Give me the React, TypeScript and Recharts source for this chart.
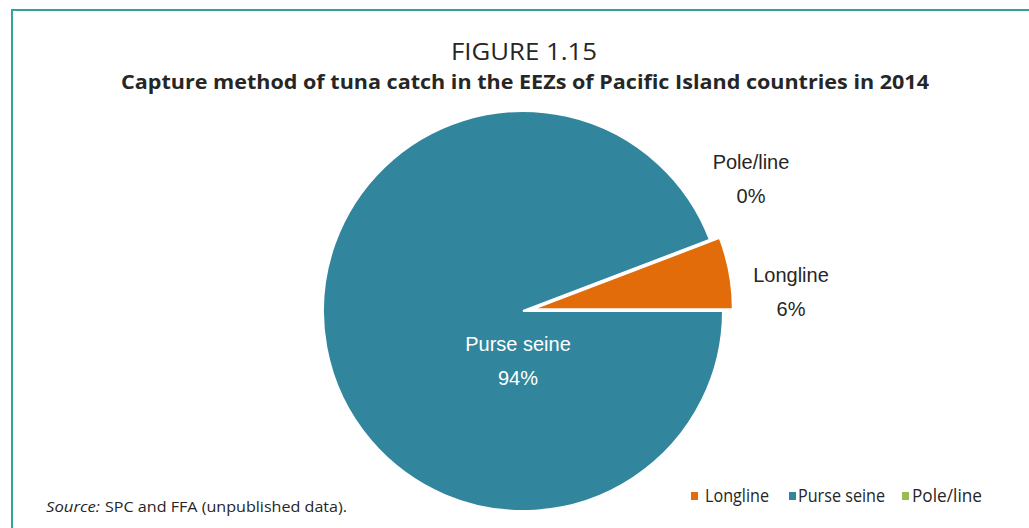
import { PieChart, Pie, Cell, Legend } from "recharts";

const categories = ["Longline", "Purse seine", "Pole/line"];
const shares = [5.8, 94.2, 0];
const colors = ["#E36C0A", "#31869D", "#9BBB59"];
const EXPLODED = "Longline";

// label placement relative to the pie centre (Excel moved these by hand)
const LABEL_OFFSETS: Record<string, [number, number]> = {
  Longline: [268, -29],
  "Purse seine": [-5, 40],
  "Pole/line": [228, -142],
};

const CX = 523;
const CY = 311;
const RADIUS = 200;
const EXPLODE_BY = 10;

const total = shares.reduce((a, b) => a + b, 0);
const data = categories.map((name, i) => ({ name, value: shares[i] }));

const explodeIdx = categories.indexOf(EXPLODED);
const startShare = shares.slice(0, explodeIdx).reduce((a, b) => a + b, 0);
const midRad = (((startShare + shares[explodeIdx] / 2) / total) * 360 * Math.PI) / 180;
const explodeDx = EXPLODE_BY * Math.cos(midRad);
const explodeDy = -EXPLODE_BY * Math.sin(midRad);

const FRAME = "#33a39a";
const TEXT = "#262626";

function renderLabel(props: any) {
  const { cx, cy, index } = props;
  const name = categories[index];
  const [dx, dy] = LABEL_OFFSETS[name];
  const pct = `${Math.round((shares[index] / total) * 100)}%`;
  const fill = name === "Purse seine" ? "#ffffff" : TEXT;
  return (
    <g key={`lbl-${name}`}>
      <text
        x={cx + dx}
        y={cy + dy}
        textAnchor="middle"
        fill={fill}
        fontFamily="'Liberation Sans', Arial, sans-serif"
        fontSize={20}
      >
        {name}
      </text>
      <text
        x={cx + dx}
        y={cy + dy + 34}
        textAnchor="middle"
        fill={fill}
        fontFamily="'Liberation Sans', Arial, sans-serif"
        fontSize={20}
      >
        {pct}
      </text>
    </g>
  );
}

const LEGEND_ITEMS = [
  { sq: 5, tx: 19, w: 64 },
  { sq: 103, tx: 112, w: 87 },
  { sq: 216, tx: 226, w: 70 },
];

function LegendContent() {
  return (
    <svg width={320} height={24}>
      {categories.map((name, i) => (
        <g key={name}>
          <rect x={LEGEND_ITEMS[i].sq} y={8} width={7} height={8} fill={colors[i]} />
          <text
            x={LEGEND_ITEMS[i].tx}
            y={18}
            fontFamily="'Open Sans', sans-serif"
            fontSize={18}
            fill={TEXT}
            textLength={LEGEND_ITEMS[i].w}
            lengthAdjust="spacingAndGlyphs"
          >
            {name}
          </text>
        </g>
      ))}
    </svg>
  );
}

export default function App() {
  return (
    <div
      style={{
        position: "relative",
        width: 1029,
        height: 528,
        background: "#fff",
        overflow: "hidden",
      }}
    >
      <style>{"body{margin:0}"}</style>
      <svg
        width={1029}
        height={528}
        style={{ position: "absolute", left: 0, top: 0 }}
      >
        <line x1={11} y1={10} x2={1029} y2={10} stroke={FRAME} strokeWidth={2} />
        <line x1={12} y1={9} x2={12} y2={528} stroke={FRAME} strokeWidth={2} />
        <text
          x={451}
          y={60}
          fontFamily="'Open Sans', sans-serif"
          fontSize={23}
          fill={TEXT}
          textLength={146}
          lengthAdjust="spacingAndGlyphs"
        >
          FIGURE 1.15
        </text>
        <text
          x={121}
          y={89}
          fontFamily="'Open Sans', sans-serif"
          fontWeight={700}
          fontSize={20}
          fill={TEXT}
          textLength={808}
          lengthAdjust="spacingAndGlyphs"
        >
          Capture method of tuna catch in the EEZs of Pacific Island countries in 2014
        </text>
        <text
          x={46}
          y={512}
          fontFamily="'Open Sans', sans-serif"
          fontStyle="italic"
          fontSize={15}
          fill={TEXT}
          textLength={54}
          lengthAdjust="spacingAndGlyphs"
        >
          Source:
        </text>
        <text
          x={105}
          y={512}
          fontFamily="'Open Sans', sans-serif"
          fontSize={15}
          fill={TEXT}
          textLength={242}
          lengthAdjust="spacingAndGlyphs"
        >
          SPC and FFA (unpublished data).
        </text>
      </svg>
      <div style={{ position: "absolute", left: 0, top: 0 }}>
        <PieChart
          width={1029}
          height={528}
          margin={{ top: 0, right: 0, bottom: 0, left: 0 }}
        >
          <Pie
            data={data}
            dataKey="value"
            nameKey="name"
            cx={CX}
            cy={CY}
            outerRadius={RADIUS}
            startAngle={0}
            endAngle={360}
            isAnimationActive={false}
            label={renderLabel}
            labelLine={false}
          >
            {data.map((d, i) => (
              <Cell
                key={d.name}
                fill={d.name === EXPLODED ? "none" : colors[i]}
                stroke={d.name === EXPLODED ? "none" : "#ffffff"}
                strokeWidth={2}
              />
            ))}
          </Pie>
          <Pie
            data={data}
            dataKey="value"
            nameKey="name"
            cx={CX + explodeDx}
            cy={CY + explodeDy}
            outerRadius={RADIUS}
            startAngle={0}
            endAngle={360}
            isAnimationActive={false}
            label={false}
            labelLine={false}
          >
            {data.map((d, i) => (
              <Cell
                key={d.name}
                fill={d.name === EXPLODED ? colors[i] : "none"}
                stroke={d.name === EXPLODED ? "#ffffff" : "none"}
                strokeWidth={2}
              />
            ))}
          </Pie>
          <Legend
            content={() => <LegendContent />}
            wrapperStyle={{ position: "absolute", left: 686, top: 484, width: 320 }}
          />
        </PieChart>
      </div>
    </div>
  );
}
